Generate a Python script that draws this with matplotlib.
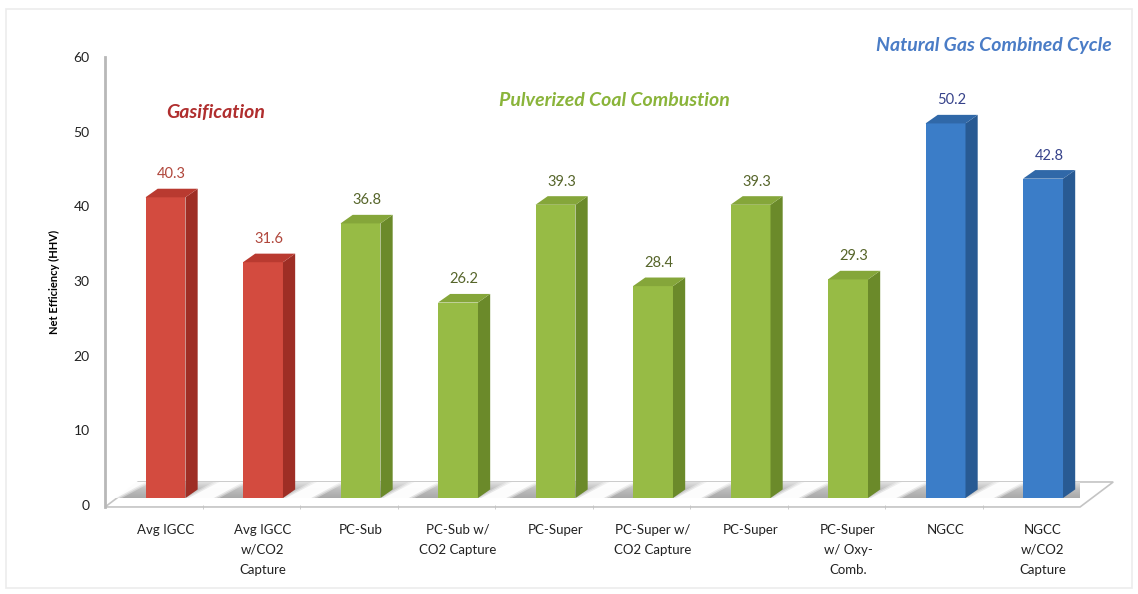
import numpy as np
import matplotlib.pyplot as plt
from matplotlib.patches import Polygon, Rectangle
from matplotlib.colors import LinearSegmentedColormap

plt.rcParams['font.family'] = ['Lato', 'DejaVu Sans']

labels = ['Avg IGCC', 'Avg IGCC\nw/CO2\nCapture', 'PC-Sub', 'PC-Sub w/\nCO2 Capture',
          'PC-Super', 'PC-Super w/\nCO2 Capture', 'PC-Super', 'PC-Super\nw/ Oxy-\nComb.',
          'NGCC', 'NGCC\nw/CO2\nCapture']
values = [40.3, 31.6, 36.8, 26.2, 39.3, 28.4, 39.3, 29.3, 50.2, 42.8]
groups = ['gas', 'gas', 'coal', 'coal', 'coal', 'coal', 'coal', 'coal', 'ngcc', 'ngcc']

group_titles = {'gas': 'Gasification', 'coal': 'Pulverized Coal Combustion',
                'ngcc': 'Natural Gas Combined Cycle'}
title_pos = {'gas': (0.51, 52.6), 'coal': (4.6, 54.2), 'ngcc': (8.5, 61.6)}

# front / side / top / value-label / title colours per group
colors = {
    'gas': dict(front='#d34b3f', side='#9e2e25', top='#b93a30', text='#b0463b', title='#b02e2e'),
    'coal': dict(front='#97bb45', side='#6b8a2a', top='#85a63a', text='#56652a', title='#8ab43a'),
    'ngcc': dict(front='#3b7dc8', side='#285a93', top='#3068a8', text='#36428a', title='#4a7cc6'),
}

fig = plt.figure(figsize=(11.38, 5.94), dpi=100)
fig.patches.append(Rectangle((0.005, 0.01), 0.99, 0.975, transform=fig.transFigure,
                             fill=False, edgecolor='#ececec', linewidth=1.2))
ax = fig.add_axes([0.0923, 0.1465, 0.8568, 0.7575])

x = np.arange(len(values))
width = 0.41
dx, dy = 0.125, 1.15          # bar depth in data units
fx, fy = 0.34, 3.35           # floor depth
x_left, x_right = -0.62, 9.38
y_floor = -0.3
base = 0.9                    # bars stand this far back on the floor
y_back = y_floor + fy

# floor outline
floor = Polygon([(x_left, y_floor), (x_right, y_floor), (x_right + fx, y_back),
                 (x_left + fx, y_back)], closed=True, facecolor='white',
                edgecolor='#c4c4c4', linewidth=1.2, zorder=1, clip_on=False)
ax.add_patch(floor)

# grey shadow band on the floor, darker toward the bars
sx = fx * (base - y_floor) / fy
band = Polygon([(x_left + sx, base), (x_right + sx, base), (x_right + fx, y_back),
                (x_left + fx, y_back)], closed=True, facecolor='none', edgecolor='none')
ax.add_patch(band)
shade = LinearSegmentedColormap.from_list('shade', ['#a9a9a9', '#bdbdbd', '#e4e4e4'])
grad = np.linspace(0, 1, 50).reshape(-1, 1)
im = ax.imshow(grad, extent=[x_left, x_right + fx, base, y_back], origin='lower',
               cmap=shade, aspect='auto', zorder=1.2, interpolation='bilinear')
im.set_clip_path(band)

# white gaps in the shadow just left of each bar
for xi in x:
    x0 = xi - width / 2
    for a, grow in [(0.35, 0.06), (0.5, 0.03), (0.9, 0.0)]:
        gap = Polygon([(x0 - 0.56 - grow, base), (x0 - 0.30 + grow, base),
                       (x0 + grow, y_back), (x0 - 0.24 - grow, y_back)],
                      closed=True, facecolor='white', edgecolor='none', alpha=a, zorder=1.4)
        ax.add_patch(gap)

# bars: front face, side face, top face
ax.bar(x, values, width=width, bottom=base,
       color=[colors[g]['front'] for g in groups], zorder=3, linewidth=0)
for xi, v, g in zip(x, values, groups):
    c = colors[g]
    x0, x1 = xi - width / 2, xi + width / 2
    top_y = base + v
    side = Polygon([(x1, base), (x1 + dx, base + dy), (x1 + dx, top_y + dy), (x1, top_y)],
                   closed=True, facecolor=c['side'], edgecolor='none', zorder=3)
    top = Polygon([(x0, top_y), (x1, top_y), (x1 + dx, top_y + dy), (x0 + dx, top_y + dy)],
                  closed=True, facecolor=c['top'], edgecolor='none', zorder=3)
    ax.add_patch(side)
    ax.add_patch(top)
    ax.text(xi + dx / 2, top_y + dy + 1.0, f'{v}', ha='center', va='bottom',
            fontsize=10.5, color=c['text'], zorder=4)

for g, title in group_titles.items():
    tx, ty = title_pos[g]
    ax.text(tx, ty, title, ha='center', va='center', fontsize=14, fontweight='bold',
            fontstyle='italic', color=colors[g]['title'])

ax.set_xlim(x_left, x_right)
ax.set_ylim(y_floor, 60)
ax.set_yticks([0, 10, 20, 30, 40, 50, 60])
ax.tick_params(axis='y', length=0, pad=11, labelsize=10, labelcolor='#222222')
ax.set_xticks(x)
ax.set_xticklabels(labels, fontsize=9.5, linespacing=1.8, color='#222222')
ax.set_xticks(x_left + np.arange(1, 10), minor=True)
ax.tick_params(axis='x', which='major', length=0, pad=12)
ax.tick_params(axis='x', which='minor', length=3, color='#c4c4c4', direction='inout')
ax.set_ylabel('Net Efficiency (HHV)', fontsize=8, fontweight='bold')
ax.yaxis.set_label_coords(-0.046, 0.5)

for s in ['top', 'right', 'bottom']:
    ax.spines[s].set_visible(False)
ax.spines['left'].set_color('#b8b8b8')
ax.spines['left'].set_linewidth(2)

fig.savefig('out.png', dpi=100)
